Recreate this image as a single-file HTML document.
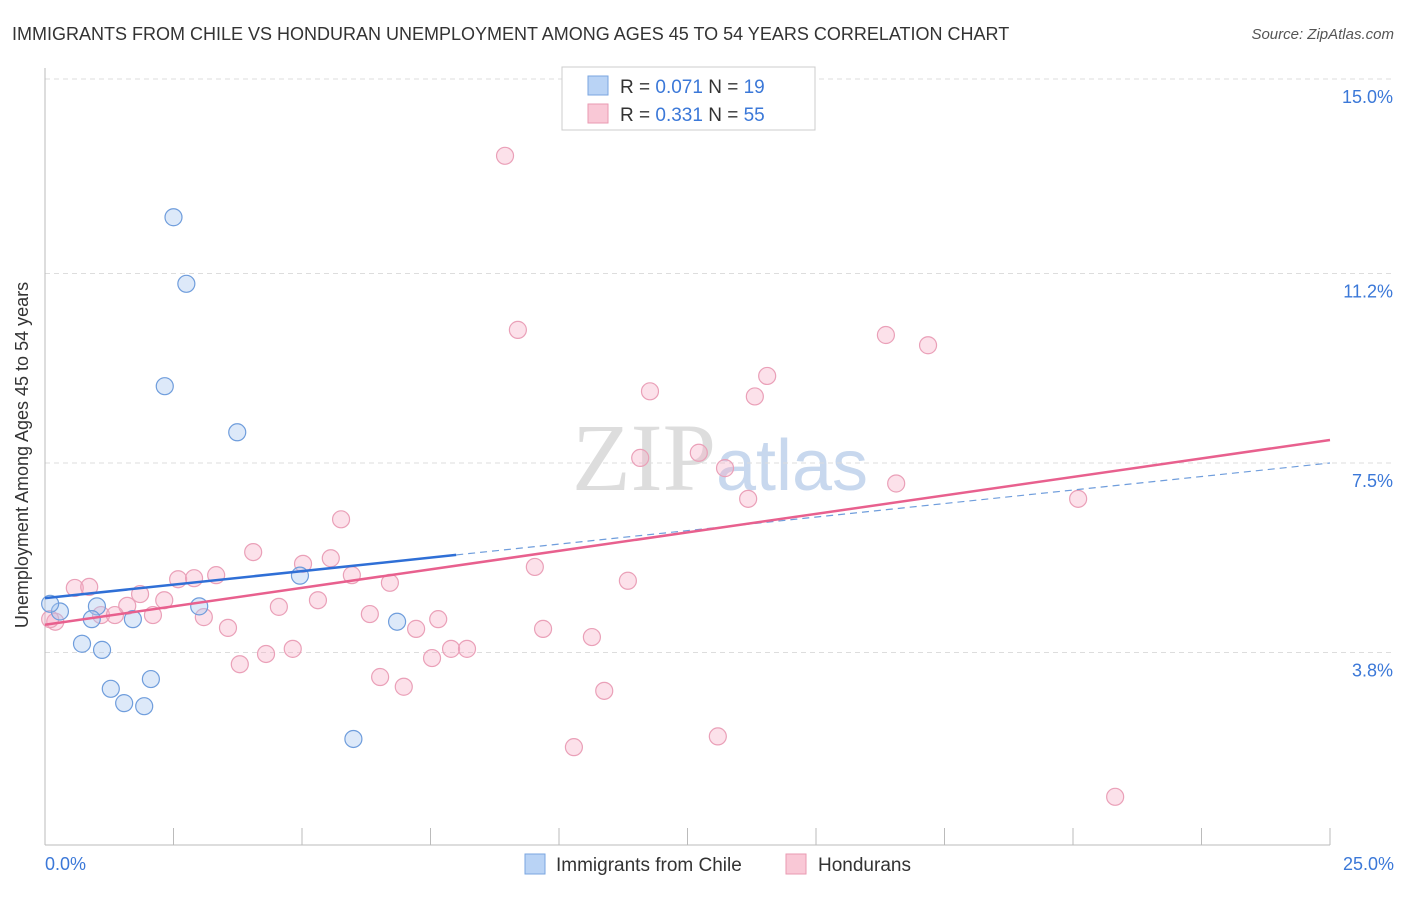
<!DOCTYPE html>
<html><head><meta charset="utf-8"><style>
body{margin:0;background:#fff;font-family:"Liberation Sans",sans-serif}
</style></head><body>
<svg width="1406" height="892" xmlns="http://www.w3.org/2000/svg">
<text x="12" y="40" font-size="18" fill="#333">IMMIGRANTS FROM CHILE VS HONDURAN UNEMPLOYMENT AMONG AGES 45 TO 54 YEARS CORRELATION CHART</text>
<text x="1394" y="39" font-size="15" fill="#555" font-style="italic" text-anchor="end">Source: ZipAtlas.com</text>
<text x="720" y="490" font-size="96" fill="#ddd" text-anchor="middle" font-family="Liberation Serif">ZIP<tspan fill="#c8d8ee" font-family="Liberation Sans" font-size="72">atlas</tspan></text>
<g id="grid"></g>
<line x1="45" y1="68" x2="45" y2="845" stroke="#bbb"/>
<line x1="45" y1="845" x2="1330" y2="845" stroke="#bbb"/>
<text x="28" y="455" font-size="18" fill="#333" text-anchor="middle" transform="rotate(-90 28 455)">Unemployment Among Ages 45 to 54 years</text>
<text x="45" y="870" font-size="18" fill="#3b78d8">0.0%</text>
<text x="1394" y="870" font-size="18" fill="#3b78d8" text-anchor="end">25.0%</text>
<g id="pts"></g>
<g id="trend"></g>
<rect x="562" y="67" width="253" height="63" fill="#fff" stroke="#ccc"/>
<rect x="588" y="76" width="20" height="19" fill="#b9d3f5" stroke="#7aa6e0"/>
<rect x="588" y="104" width="20" height="19" fill="#f9c8d6" stroke="#e99ab2"/>
<text x="620" y="93" font-size="19" fill="#333">R = <tspan fill="#3b78d8">0.071</tspan>   N = <tspan fill="#3b78d8"> 19</tspan></text>
<text x="620" y="121" font-size="19" fill="#333">R = <tspan fill="#3b78d8">0.331</tspan>   N = <tspan fill="#3b78d8">55</tspan></text>
<rect x="525" y="854" width="20" height="20" fill="#b9d3f5" stroke="#7aa6e0"/>
<text x="556" y="871" font-size="19" fill="#333">Immigrants from Chile</text>
<rect x="786" y="854" width="20" height="20" fill="#f9c8d6" stroke="#e99ab2"/>
<text x="818" y="871" font-size="19" fill="#333">Hondurans</text>
</svg>
<script>
const yTicks=[3.8,7.5,11.2,15.0];
const xTicks=[0,2.5,5,7.5,10,12.5,15,17.5,20,22.5,25];
const chileX=[2.5,2.75,2.33,3.74,4.96,3.0,1.01,0.91,1.71,0.29,0.72,1.11,2.06,1.28,1.54,1.93,6.0,6.85,0.1];
const chileY=[12.3,11.0,9.0,8.1,5.3,4.7,4.7,4.45,4.45,4.6,3.97,3.85,3.28,3.09,2.81,2.75,2.11,4.4,4.75];
const hondX=[8.95,9.2,16.36,17.18,14.05,11.77,13.81,11.58,12.72,13.23,16.56,13.68,20.1,5.76,4.05,5.56,5.02,9.53,2.59,2.9,3.33,5.97,6.71,11.34,0.58,0.86,1.85,2.32,5.31,4.55,1.6,1.09,1.36,2.1,3.09,6.32,7.65,3.56,7.22,9.69,10.64,4.82,4.3,7.9,8.21,7.53,3.79,6.52,6.98,10.88,13.09,10.29,20.82,0.2,0.1];
const hondY=[13.5,10.1,10.0,9.8,9.2,8.9,8.8,7.6,7.7,7.4,7.1,6.8,6.8,6.4,5.76,5.64,5.53,5.47,5.23,5.25,5.31,5.31,5.16,5.2,5.06,5.08,4.94,4.82,4.82,4.69,4.71,4.53,4.53,4.53,4.49,4.55,4.45,4.28,4.26,4.26,4.1,3.87,3.77,3.87,3.87,3.69,3.57,3.32,3.13,3.05,2.16,1.95,0.98,4.4,4.45];
const chileTrend=[4.86,7.5], hondTrend=[4.34,7.95];
const X=v=>45+v*51.4, Y=v=>847-v*51.2;
const NS="http://www.w3.org/2000/svg";
function mk(t,a,p){const e=document.createElementNS(NS,t);for(const k in a)e.setAttribute(k,a[k]);p.appendChild(e);return e;}
const grid=document.getElementById('grid');
yTicks.forEach(t=>{
 const l=mk('line',{x1:45,x2:1394,y1:Y(t),y2:Y(t),stroke:'#ddd','stroke-dasharray':'5,4'},grid);
 
 
 const tx=mk('text',{x:1393,y:Y(t)+24,'font-size':18,fill:'#3b78d8','text-anchor':'end'},grid);
 tx.textContent=t.toFixed(1)+'%';
 
 
});
xTicks.forEach(t=>{
 const l=mk('line',{x1:X(t),x2:X(t),y1:828,y2:845,stroke:'#bbb'},grid);
 
 
});
const pts=document.getElementById('pts');
hondX.forEach((x,i)=>{
 const c=mk('circle',{cx:X(x),cy:Y(hondY[i]),r:8.5,fill:'rgba(246,170,195,0.35)',stroke:'#eaa0b8','stroke-width':1.2},pts);
 
 
});
chileX.forEach((x,i)=>{
 const c=mk('circle',{cx:X(x),cy:Y(chileY[i]),r:8.5,fill:'rgba(170,200,240,0.4)',stroke:'#6f9ddc','stroke-width':1.2},pts);
 
 
});
const tr=document.getElementById('trend');
const cy=x=>chileTrend[0]+(chileTrend[1]-chileTrend[0])*x/25;
let l=mk('line',{x1:X(0),y1:Y(cy(0)),x2:X(8),y2:Y(cy(8)),stroke:'#2f6fd6','stroke-width':2.5},tr);


l=mk('line',{x1:X(8),y1:Y(cy(8)),x2:X(25),y2:Y(cy(25)),stroke:'#6f9ddc','stroke-width':1.2,'stroke-dasharray':'7,5'},tr);


l=mk('line',{x1:X(0),y1:Y(hondTrend[0]),x2:X(25),y2:Y(hondTrend[1]),stroke:'#e8608e','stroke-width':2.5},tr);


</script>
</body></html>
